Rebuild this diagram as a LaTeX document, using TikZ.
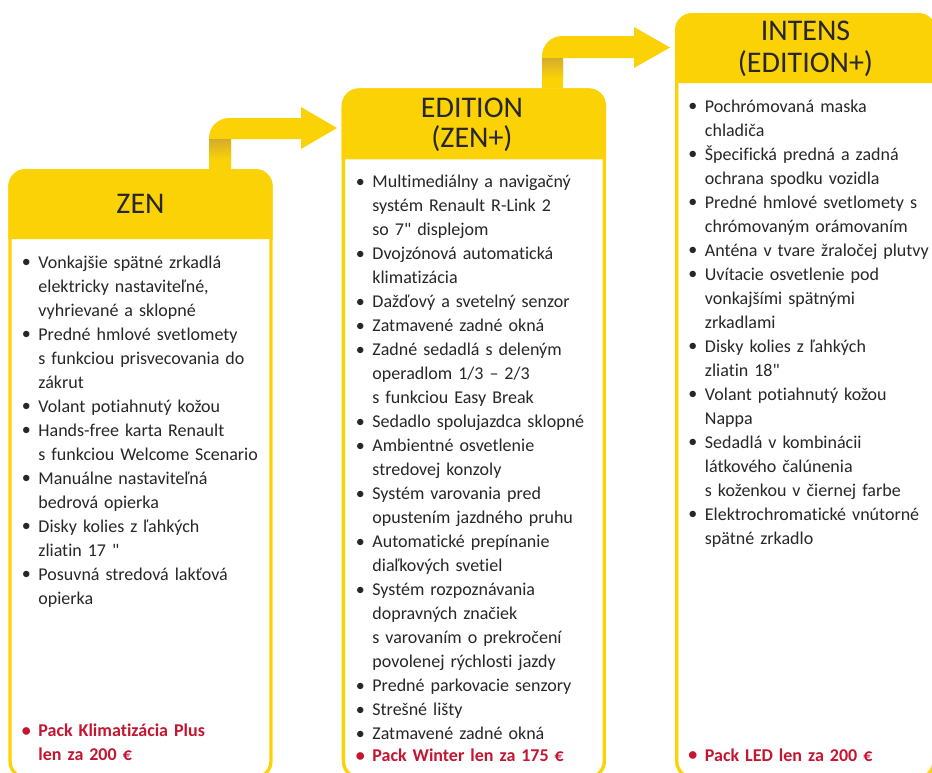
\documentclass[tikz,border=0pt]{standalone}
\usepackage{fontspec}
\setmainfont{Carlito}[Ligatures={TeXOff,NoCommon}]
\usetikzlibrary{calc}
\definecolor{ryellow}{RGB}{251,210,6}
\definecolor{rshadow}{RGB}{212,172,44}
\definecolor{rtext}{RGB}{40,38,38}
\definecolor{rred}{RGB}{196,22,48}
\newcommand\bodyfont{\fontsize{13.5}{18}\selectfont}
\newcommand\headfont{\fontsize{22.5}{24}\selectfont}
\newcommand\itm{\par\noindent\hangindent=12.5pt\hangafter=1\strut\makebox[12.5pt][l]{\raisebox{0.3pt}{\textbullet}}}
\tikzset{
  boxline/.style={draw=ryellow,line width=2.5pt,fill=white},
  headfill/.style={fill=ryellow},
  arrowfill/.style={fill=ryellow},
  htext/.style={font=\headfont,text=rtext,align=center,inner sep=0pt},
  coltext/.style={font=\bodyfont,text=rtext,text width=300pt,inner sep=0pt,anchor=north west},
  redtext/.style={font=\bodyfont\bfseries,text=rred,text width=300pt,inner sep=0pt,anchor=north west}
}
\begin{document}
\begin{tikzpicture}[x=0.75pt,y=-0.75pt]
\useasboundingbox (0,0) rectangle (932,772);
\begin{scope}
\clip (0,0) rectangle (932,772);
% ---------- arrows ----------
\fill[arrowfill] (209,169) -- (209,138) .. controls (209,127) and (218,118) .. (229,118) -- (301,118) -- (301,107) -- (337,128) -- (301,149) -- (301,139) -- (231,139) -- (231,169) -- cycle;
\shade[top color=rshadow,bottom color=ryellow] (209,139) rectangle (231,160);
\fill[arrowfill] (542,88) -- (542,56) .. controls (542,45) and (551,36) .. (562,36) -- (634,36) -- (634,27) -- (670,47.5) -- (634,68) -- (634,58) -- (563,58) -- (563,88) -- cycle;
\shade[top color=rshadow,bottom color=ryellow] (542,58) rectangle (563,78);
% ---------- boxes ----------
\draw[boxline,rounded corners=12.75pt] (10,170.7) rectangle (271,778);
\fill[headfill] (8.3,239) {[rounded corners=12.75pt] -- (8.3,169) -- (272.7,169)} -- (272.7,239) -- cycle;
\draw[boxline,rounded corners=12.75pt] (343.4,90) rectangle (604.3,778);
\fill[headfill] (341.7,159.3) {[rounded corners=12.75pt] -- (341.7,88.3) -- (606,88.3)} -- (606,159.3) -- cycle;
\draw[boxline,rounded corners=12.75pt] (676.7,14.7) rectangle (934,778);
\fill[headfill] (675,83) {[rounded corners=12.75pt] -- (675,13) -- (935.7,13)} -- (935.7,83) -- cycle;
\end{scope}
% ---------- headers ----------
\node[htext,anchor=base] (zenhead) at (140.5,213) {ZEN};
\node[htext,anchor=base] (edhead1) at (472,117) {EDITION};
\node[htext,anchor=base] (edhead2) at (472,147) {(ZEN+)};
\node[htext,anchor=base] (inhead1) at (805.5,40) {INTENS};
\node[htext,anchor=base] (inhead2) at (805.5,72.5) {(EDITION+)};
% ---------- lists ----------
\node[coltext] (zenlist) at (21.5,244) {%
\itm Vonkajšie spätné zrkadlá\newline elektricky nastaviteľné,\newline vyhrievané a sklopné
\itm Predné hmlové svetlomety\newline s funkciou prisvecovania do\newline zákrut
\itm Volant potiahnutý kožou
\itm Hands-free karta Renault\newline s funkciou Welcome Scenario
\itm Manuálne nastaviteľná\newline bedrová opierka
\itm Disky kolies z ľahkých\newline zliatin 17 "
\itm Posuvná stredová lakťová\newline opierka\par};
\node[redtext] (zenred) at (21.5,712.5) {\itm Pack Klimatizácia Plus\newline len za 200 €\par};
\node[coltext] (edlist) at (355.5,163.5) {%
\itm Multimediálny a navigačný\newline systém Renault R-Link 2\newline so 7" displejom
\itm Dvojzónová automatická\newline klimatizácia
\itm Dažďový a svetelný senzor
\itm Zatmavené zadné okná
\itm Zadné sedadlá s deleným\newline operadlom 1/3 – 2/3\newline s funkciou Easy Break
\itm Sedadlo spolujazdca sklopné
\itm Ambientné osvetlenie\newline stredovej konzoly
\itm Systém varovania pred\newline opustením jazdného pruhu
\itm Automatické prepínanie\newline diaľkových svetiel
\itm Systém rozpoznávania\newline dopravných značiek\newline s varovaním o prekročení\newline povolenej rýchlosti jazdy
\itm Predné parkovacie senzory
\itm Strešné lišty
\itm Zatmavené zadné okná\par};
\node[redtext] (edred) at (355.5,737.5) {\itm Pack Winter len za 175 €\par};
\node[coltext] (inlist) at (688,88) {%
\itm Pochrómovaná maska\newline chladiča
\itm Špecifická predná a zadná\newline ochrana spodku vozidla
\itm Predné hmlové svetlomety s\newline chrómovaným orámovaním
\itm Anténa v tvare žraločej plutvy
\itm Uvítacie osvetlenie pod\newline vonkajšími spätnými\newline zrkadlami
\itm Disky kolies z ľahkých\newline zliatin 18"
\itm Volant potiahnutý kožou\newline Nappa
\itm Sedadlá v kombinácii\newline látkového čalúnenia\newline s koženkou v čiernej farbe
\itm Elektrochromatické vnútorné\newline spätné zrkadlo\par};
\node[redtext] (inred) at (688,737) {\itm Pack LED len za 200 €\par};
\end{tikzpicture}
\end{document}
